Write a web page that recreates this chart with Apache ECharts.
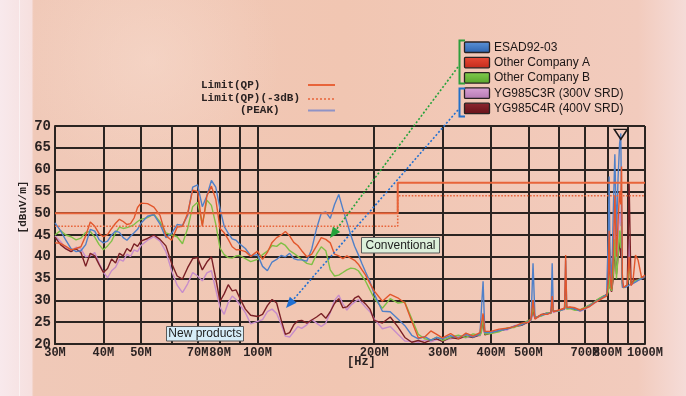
<!DOCTYPE html>
<html>
<head>
<meta charset="utf-8">
<script src="https://cdn.jsdelivr.net/npm/echarts@6/dist/echarts.min.js"></script>
<style>
  html, body { margin: 0; padding: 0; background: #f1c7b4; }
  #chart { width: 686px; height: 396px; }
</style>
</head>
<body>
<div id="chart"></div>
<script>
// Measurement frequencies (MHz)
const freqMHz = [30,31,32,33,34,35,36,37,38,39,40,41,42,43,44,45,46,47,48,49,50,
  52,54,56,58,60,62,64,66,68,70,72,74,76,78,80,82,84,86,88,90,
  93,96,100,
  103,106,109,112,115,118,121,124,127,130,
  134,138,142,146,150,154,158,162,166,170,174,178,182,186,190,
  195,200,
  210,220,230,240,250,260,270,280,290,300,
  315,330,345,360,375,
  378,382,386,
  400,420,440,460,480,500,
  508,514,520,
  540,560,
  572,576,580,
  600,620,624,628,
  640,660,680,700,720,740,760,780,
  796,804,808,812,820,828,836,844,852,860,866,870,874,880,890,900,910,920,930,945,960,980,1000];

// Radiated noise, dBuV/m (peak)
const esad9203 = [47.8,46,43.8,41.9,41.2,41.4,42.8,46.3,45.9,43.9,43.2,43.6,45,45.9,45.6,44.4,43.8,44.7,45.5,46.3,47.7,
  49.3,49.7,47.5,44.4,45.4,47.4,47.2,49.5,56,56.5,51.5,54,57.5,56,51,47,45.4,44.1,43.8,42.9,
  41.9,40.2,40.5,
  37.8,36.8,38.8,39.4,40.3,40,40.8,39.6,39.3,39.3,
  39,41.8,46.5,50,50.3,48.8,52,54.3,51,48,45,42.4,40.5,38.4,36.5,
  34.3,31.5,
  27.5,27.4,25.8,24.2,22,21.2,21.7,20.9,21.5,21.2,
  21.9,21.4,22.2,21.6,22.4,
  22.8,34.4,22.6,
  22.6,23.1,23.4,24.1,24.4,25.2,
  25.6,38.5,26,
  26.6,27,
  27.1,38.5,27.5,
  27.6,28,39.2,28.3,
  28.3,28,27.6,28.1,28.8,29.5,30.1,30.8,
  31.2,45,58.4,42,33,50,63.5,45,58,66,68.3,50,33,32.8,33,33.2,33.5,33.6,33.9,34.2,34.6,35,35.6];

const otherCompanyA = [43.2,43.1,42.4,41.6,41.9,42.3,44.8,48,47,45.3,44.6,45.1,46.5,47.7,48.6,48.1,47.4,47.6,48.9,51.3,52.3,
  52.2,51.4,49.5,44.8,43.8,46.8,47,50,55.3,55,47,54,56.2,53.2,46.5,45.5,44,42.3,41.6,41.6,
  41.2,40.1,41.3,
  39.4,41,43.3,44.4,45,45.8,44.8,43.3,42.6,41.4,
  40,40.6,42.5,44.4,44,43.2,40.6,40.2,39.6,40.2,39.7,39.2,38.3,37,35.8,
  33.9,32.2,
  29.8,31.4,30.6,29.4,25.2,21.4,21.6,23,22.2,21.4,
  22.4,21.2,22.5,21.8,22.6,
  22.5,27,22.9,
  22.9,23.4,23.6,24,24.8,25,
  25.8,30.1,25.7,
  26.8,26.8,
  27.2,31,27.4,
  27.8,28.2,40.4,28.4,
  28.5,28.3,27.8,28.2,28.6,29.4,30,30.6,
  31,34,46,36,32.5,40,54,40,48,55,52,60.7,36,33,33.2,33.6,40,33.4,34,40.4,39.2,35.2,35.8];

const otherCompanyB = [45,46,45,44.6,43.9,44.3,45.6,45.8,44.5,42.8,41.6,42.5,43.6,45.5,46.8,46.5,46.7,47,47.4,48.1,48.6,
  49,49.8,48,45.5,45,44.6,43,46.5,51.5,52.5,47.5,53,51.8,47.5,42,40.5,39.8,39.7,40.2,40.3,
  39.6,38.9,39.4,
  40.5,41.3,42.6,42.4,43.2,42.6,41.4,40.8,40.1,39.4,
  38.5,38.2,40.6,42.3,41.4,37,35.6,35.8,36.4,37,37.4,37.3,36.8,35.6,34.4,
  32.4,30.5,
  28.2,30.4,29.4,29.6,25.8,22.2,21.2,20.9,21.6,20.8,
  21.6,22,21.5,22.3,22,
  22.6,26.4,22.3,
  22.4,22.8,23.7,23.8,24.5,25.4,
  25.5,28.5,26.2,
  26.4,27.2,
  27,29,27.6,
  27.5,28.1,31,28,
  28.1,27.7,27.9,28.4,29,29.6,30.4,31,
  31.1,32,36,33,32.2,36,44,35,40,46,42,48,33.5,32.9,33.1,33.3,38,33.7,34.1,34.5,34.7,35.2,35.5];

const yg985c3r = [44.8,43.5,42,41.2,42.2,41.8,40,40.2,41,38.5,36.5,35.2,36.8,37.6,39.4,39,40.6,40.1,41.6,41.2,42.6,
  43.8,44.6,43.6,41.2,36.8,33.5,31.8,33.8,36.4,35.6,34.5,36.3,36.8,32.5,28.4,26.8,29.5,31,30.2,29,
  27.2,24.6,25.2,
  25.6,27.4,28,27,24.6,21.8,21.6,22.8,24,23.6,
  24.4,25.6,24.8,24,24.8,27.2,30,31.2,29.2,27.8,28.9,29.6,30.2,29.4,28.4,
  27.4,25.8,
  23.5,24,22.3,20.7,20.6,20.4,20.9,20.5,21,20.7,
  21.2,21.7,21.4,22,21.8,
  22.2,24,22.4,
  22.8,23.2,23.2,24.2,24.6,25,
  25.4,27,25.8,
  26.5,26.9,
  27.3,28,27.2,
  27.7,27.9,30,28.2,
  28.2,28.1,27.5,28,28.7,29.3,30.2,30.7,
  31.2,33,40,34,32,38,48,38,44,50,47,52,34,33,33,33.3,44,33.5,33.9,34.3,34.6,35,35.4];

const yg985c4r = [44.5,42.8,41.8,41.2,41.8,41,37.8,40.8,40.2,38.2,36.4,37.3,39.5,38.6,40.8,40.2,41.9,41.2,43,42.4,43.6,
  44.2,45,44,42.5,38.5,35.6,34.9,37.5,39.6,39.8,37,38.8,40,35,29.8,31.5,33.6,32.2,32.4,30.5,
  28,26.6,26.3,
  26.8,28.8,30.2,29.4,25.6,22.2,22.6,24.4,25.3,25.4,
  24.8,25.5,26.2,27,25.9,27.4,29.3,30.4,28.3,28.5,29.4,30.5,31,30,29.2,
  28,25.4,
  24.8,26.2,24,21.5,20.4,20.8,20.3,20.9,21.2,20.6,
  21.5,21.2,21.8,21.5,22.1,
  22.4,25,22.1,
  22.5,23,23.5,24,24.3,25.1,
  25.7,28,25.9,
  26.7,27.1,
  27.1,30,27.5,
  27.6,28.2,33,28.1,
  28.4,27.9,27.7,28.3,28.9,29.7,30.3,30.9,
  31.3,32,38,33,32,35,42,36,40,44,40,45,34,33,33.2,33.4,56.8,33.8,34,35,34.8,35.1,35.4];

// Limit lines (stepped at 230 MHz)
const limitFreq = [30, 230, 230, 1000];
const limitQP = [50, 50, 57, 57];
const limitQP3dB = [47, 47, 54, 54];

// Axis marks
const xGridValues = [30,40,50,60,70,80,90,100,200,300,400,500,600,700,800,900,1000];
const xLabelValues = [30,40,50,70,80,100,200,300,400,500,700,800,1000];
const peakMarker = [866, 68.1];

const productNames = ['ESAD92-03', 'Other Company A', 'Other Company B', 'YG985C3R (300V SRD)', 'YG985C4R (400V SRD)'];
const productSeries = [esad9203, otherCompanyA, otherCompanyB, yg985c3r, yg985c4r];
const lineColors = ['#5080c8', '#e2562c', '#80c046', '#c78dca', '#7b2026'];
const swatchColors = [['#5d93d8', '#2c62ac'], ['#ea4b36', '#c22a1c'], ['#82cc4e', '#58a42c'], ['#d9a2d6', '#b479b2'], ['#8e2630', '#661219']];

const pair = (xs, ys) => xs.map((x, i) => [x, ys[i]]);

const chart = echarts.init(document.getElementById('chart'), null, { renderer: 'canvas' });

const gridColor = '#2b2421';
const monoBold = 'bold 12px "Liberation Mono", monospace';

function arrowParts(x1, y1, x2, y2, color) {
  const ang = Math.atan2(y2 - y1, x2 - x1);
  const L = 11, W = 4.5;
  const bx = x2 - L * Math.cos(ang), by = y2 - L * Math.sin(ang);
  const px = -Math.sin(ang) * W, py = Math.cos(ang) * W;
  return [
    { type: 'line', z: 100, shape: { x1: x1, y1: y1, x2: bx, y2: by },
      style: { stroke: color, lineWidth: 1.6, lineDash: [2, 2] } },
    { type: 'polygon', z: 100, shape: { points: [[x2, y2], [bx + px, by + py], [bx - px, by - py]] },
      style: { fill: color } }
  ];
}

const graphics = [];
// page background
graphics.push({
  type: 'rect', z: -10, shape: { x: 0, y: 0, width: 686, height: 396 },
  style: { fill: { type: 'linear', x: 0, y: 0, x2: 1, y2: 0, colorStops: [
    { offset: 0, color: '#f8e9ec' }, { offset: 0.046, color: '#f6e0df' },
    { offset: 0.049, color: '#f0c9b8' }, { offset: 0.5, color: '#f1c6b2' },
    { offset: 0.93, color: '#f2cbbd' }, { offset: 1, color: '#f5dcd8' }] } }
});
graphics.push({ type: 'line', z: -9, shape: { x1: 19.5, y1: 0, x2: 19.5, y2: 396 }, style: { stroke: 'rgba(255,255,255,0.5)', lineWidth: 1 } });
graphics.push({
  type: 'circle', z: -9, shape: { cx: 150, cy: 60, r: 130 },
  style: { fill: { type: 'radial', x: 0.5, y: 0.5, r: 0.5, colorStops: [
    { offset: 0, color: 'rgba(248,222,210,0.5)' }, { offset: 1, color: 'rgba(248,222,210,0)' }] } }
});

// product legend
productNames.forEach((name, i) => {
  const y = 42 + i * 15.3;
  graphics.push({
    type: 'rect', z: 50, shape: { x: 464.5, y: y, width: 25, height: 10.5, r: 1 },
    style: { fill: { type: 'linear', x: 0, y: 0, x2: 0, y2: 1, colorStops: [
      { offset: 0, color: swatchColors[i][0] }, { offset: 1, color: swatchColors[i][1] }] },
      stroke: '#2a2222', lineWidth: 1.3 }
  });
  graphics.push({
    type: 'text', z: 50, x: 494, y: y + 5.5,
    style: { text: name, font: '12px "Liberation Sans", Arial, sans-serif', fill: '#1c1616', align: 'left', verticalAlign: 'middle' }
  });
});
// brackets grouping the legend
graphics.push({ type: 'polyline', z: 50, shape: { points: [[465, 40.5], [459.5, 40.5], [459.5, 83.5], [465, 83.5]] },
  style: { stroke: '#2f9e3c', lineWidth: 2, fill: null } });
graphics.push({ type: 'polyline', z: 50, shape: { points: [[465, 88.5], [459.5, 88.5], [459.5, 116.5], [465, 116.5]] },
  style: { stroke: '#2270c8', lineWidth: 2, fill: null } });

// arrows to the curve groups
graphics.push(...arrowParts(458, 67, 330, 238, '#23a23a'));
graphics.push(...arrowParts(458, 110, 286, 308, '#2170d2'));

// callout boxes
graphics.push({ type: 'rect', z: 100, shape: { x: 361.5, y: 237.5, width: 78, height: 15.5 },
  style: { fill: '#dcefda', stroke: '#5a5a5a', lineWidth: 1 } });
graphics.push({ type: 'text', z: 101, x: 400.5, y: 245.5,
  style: { text: 'Conventional', font: '12px "Liberation Sans", Arial, sans-serif', fill: '#1e1e1e', align: 'center', verticalAlign: 'middle' } });
graphics.push({ type: 'rect', z: 100, shape: { x: 166.5, y: 326.5, width: 77, height: 14.5 },
  style: { fill: '#d6edf8', stroke: '#5a5a5a', lineWidth: 1 } });
graphics.push({ type: 'text', z: 101, x: 205, y: 334,
  style: { text: 'New products', font: '12px "Liberation Sans", Arial, sans-serif', fill: '#1e1e1e', align: 'center', verticalAlign: 'middle' } });

// limit legend
const limitLegend = [
  { text: 'Limit(QP)', x: 201, y: 85, stroke: '#e8643a', dash: null, w: 2 },
  { text: 'Limit(QP)(-3dB)', x: 201, y: 98.5, stroke: '#e8643a', dash: [2, 2], w: 1.6 },
  { text: '(PEAK)', x: 240, y: 110, stroke: '#8f93c6', dash: null, w: 2 }
];
limitLegend.forEach((l, i) => {
  graphics.push({ type: 'text', z: 50, x: l.x, y: l.y,
    style: { text: l.text, font: 'bold 11px "Liberation Mono", monospace', fill: '#2a2222', align: 'left', verticalAlign: 'middle' } });
  const ly = [85, 99, 110.5][i];
  graphics.push({ type: 'line', z: 50, shape: { x1: 308, y1: ly, x2: 335, y2: ly },
    style: { stroke: l.stroke, lineWidth: l.w, lineDash: l.dash } });
});

// axis captions
graphics.push({ type: 'text', z: 50, x: 347, y: 362,
  style: { text: '[Hz]', font: monoBold, fill: '#2a2222', align: 'left', verticalAlign: 'middle' } });
graphics.push({ type: 'text', z: 50, x: 23, y: 207, rotation: Math.PI / 2,
  style: { text: '[dBuV/m]', font: 'bold 11px "Liberation Mono", monospace', fill: '#2a2222', align: 'center', verticalAlign: 'middle' } });

const series = [];
// draw order: new products underneath, then competitors
[3, 4, 2, 0, 1].forEach(i => {
  series.push({
    name: productNames[i], type: 'line', data: pair(freqMHz, productSeries[i]),
    showSymbol: false, symbol: 'none', smooth: false, z: 3,
    lineStyle: { color: lineColors[i], width: 1.4 },
    markPoint: i === 0 ? {
      symbol: 'triangle', symbolRotate: 180, symbolSize: [13, 10],
      data: [{ coord: peakMarker }], label: { show: false },
      itemStyle: { color: 'rgba(0,0,0,0)', borderColor: '#1e1a1a', borderWidth: 1.5 }
    } : undefined
  });
});
series.push({ name: 'Limit(QP)', type: 'line', data: pair(limitFreq, limitQP), symbol: 'none', z: 4,
  lineStyle: { color: '#e8643a', width: 2 } });
series.push({ name: 'Limit(QP)(-3dB)', type: 'line', data: pair(limitFreq, limitQP3dB), symbol: 'none', z: 4,
  lineStyle: { color: '#e8643a', width: 1.6, type: 'dotted' } });

chart.setOption({
  animation: false,
  grid: { left: 55, right: 41, top: 126, bottom: 52, containLabel: false },
  xAxis: {
    type: 'log', logBase: 10, min: 30, max: 1000,
    axisLine: { show: true, lineStyle: { color: gridColor, width: 2 } },
    axisTick: { show: true, customValues: xGridValues, inside: true, length: 218, lineStyle: { color: gridColor, width: 2 } },
    splitLine: { show: false },
    axisLabel: { customValues: xLabelValues, formatter: v => v + 'M', margin: 3,
      color: '#2a2222', fontFamily: '"Liberation Mono", monospace', fontWeight: 'bold', fontSize: 12 }
  },
  yAxis: {
    type: 'value', min: 20, max: 70, interval: 5,
    axisLine: { show: true, lineStyle: { color: gridColor, width: 2 } },
    axisTick: { show: false },
    splitLine: { show: true, lineStyle: { color: gridColor, width: 2 } },
    axisLabel: { margin: 4, color: '#2a2222', fontFamily: '"Liberation Mono", monospace', fontWeight: 'bold', fontSize: 14 }
  },
  graphic: { elements: graphics },
  series: series
});
</script>
</body>
</html>
